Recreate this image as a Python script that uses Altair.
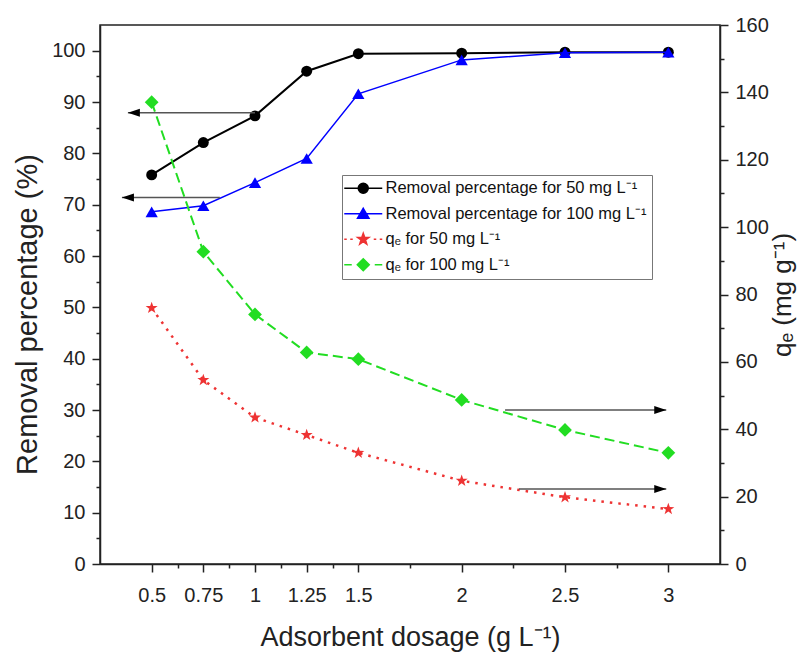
import altair as alt
import pandas as pd

# ---------------- data ----------------
dosage = [0.5, 0.75, 1.0, 1.25, 1.5, 2.0, 2.5, 3.0]
removal_50 = [75.8, 82.1, 87.3, 96.0, 99.4, 99.5, 99.7, 99.7]
removal_100 = [68.6, 69.8, 74.3, 79.0, 91.6, 98.2, 99.6, 99.7]
qe_50 = [76.0, 54.6, 43.5, 38.3, 33.0, 24.7, 19.8, 16.3]
qe_100 = [137.1, 92.7, 74.1, 62.8, 60.8, 48.7, 39.8, 33.0]

series_names = [
    "Removal percentage for 50 mg L\u207b\u00b9",
    "Removal percentage for 100 mg L\u207b\u00b9",
    "q\u2091 for 50 mg L\u207b\u00b9",
    "q\u2091 for 100 mg L\u207b\u00b9",
]
series_colors = ["#000000", "#0000ff", "#ee3333", "#22dd22"]

x_ticks = [0.5, 0.75, 1.0, 1.25, 1.5, 2.0, 2.5, 3.0]
x_minor = [0.625, 0.875, 1.125, 1.375, 1.75, 2.25, 2.75]
left_ticks = [0, 10, 20, 30, 40, 50, 60, 70, 80, 90, 100]
left_minor = [5, 15, 25, 35, 45, 55, 65, 75, 85, 95]
right_ticks = [0, 20, 40, 60, 80, 100, 120, 140, 160]
right_minor = [10, 30, 50, 70, 90, 110, 130, 150]

# arrows (annotation): y level, start x, end x (tip)
arrow_left_y = [87.9, 71.4]
arrow_left_from = [1.0, 0.83]
arrow_left_to = [0.385, 0.356]
arrow_right_y = [45.7, 22.3]
arrow_right_from = [2.21, 2.277]
arrow_right_to = [2.99, 2.99]

# ---------------- tables ----------------
df = pd.DataFrame({"dosage": dosage, "rem50": removal_50, "rem100": removal_100,
                   "qe50": qe_50, "qe100": qe_100})
long = pd.concat([
    pd.DataFrame({"dosage": dosage, "value": vals, "series": name})
    for vals, name in zip([removal_50, removal_100, qe_50, qe_100], series_names)
], ignore_index=True)
arr_l = pd.DataFrame({"y": arrow_left_y, "x1": arrow_left_from, "x2": arrow_left_to})
arr_r = pd.DataFrame({"y": arrow_right_y, "x1": arrow_right_from, "x2": arrow_right_to})

FONT = "Liberation Sans"
INK = "#222222"

star_path = ("M0,-1L0.235,-0.324L0.951,-0.309L0.38,0.124L0.588,0.809L0,0.4"
             "L-0.588,0.809L-0.38,0.124L-0.951,-0.309L-0.235,-0.324Z")
legend_paths = [
    "M-3.8,0H3.8M1,0A1,1,0,1,1,-1,0A1,1,0,1,1,1,0Z",
    "M-3.8,0H3.8M0,-1.1L1.15,0.9L-1.15,0.9Z",
    "M-3.8,0H-3.3M-2.6,0H-2.1M2.1,0H2.6M3.3,0H3.8"
    "M0,-1.2L0.282,-0.389L1.141,-0.371L0.456,0.149L0.706,0.971L0,0.48"
    "L-0.706,0.971L-0.456,0.149L-1.141,-0.371L-0.282,-0.389Z",
    "M-3.8,0H-2.3M2.3,0H3.8M0,-1.2L1.2,0L0,1.2L-1.2,0Z",
]
arrow_left_head = "M0,0L2.4,-0.8L2.4,0.8Z"
arrow_right_head = "M0,0L-2.4,-0.8L-2.4,0.8Z"

xscale = alt.Scale(domain=[0.25, 3.25], nice=False, zero=False)
lscale = alt.Scale(domain=[0, 105], nice=False, zero=False)
rscale = alt.Scale(domain=[0, 160], nice=False, zero=False)

x_major_axis = alt.Axis(values=x_ticks, orient="bottom", format=".3~g", tickSize=8,
                        labelPadding=13, title="Adsorbent dosage (g L\u207b\u00b9)",
                        titlePadding=19)
x_minor_axis = alt.Axis(values=x_minor, orient="bottom", labels=False, tickSize=4,
                        domain=False, title=None)
l_major_axis = alt.Axis(values=left_ticks, orient="left", tickSize=8, labelPadding=7,
                        title="Removal percentage (%)", titlePadding=9, titleFontSize=29,
                        titleY=289)
l_minor_axis = alt.Axis(values=left_minor, orient="left", labels=False, tickSize=4,
                        domain=False, title=None)
r_major_axis = alt.Axis(values=right_ticks, orient="right", tickSize=8, labelPadding=7,
                        title="q\u2091 (mg g\u207b\u00b9)", titleAngle=270, titleFontSize=26,
                        titleBaseline="top", titlePadding=1)
r_minor_axis = alt.Axis(values=right_minor, orient="right", labels=False, tickSize=4,
                        domain=False, title=None)

# every layer of one shared group carries the SAME axis spec (axis=None would disable it)
XL = lambda f="dosage:Q": alt.X(f, scale=xscale, axis=x_major_axis)
YL = lambda f: alt.Y(f, scale=lscale, axis=l_major_axis)
XR = lambda f="dosage:Q": alt.X(f, scale=xscale, axis=None)
YR = lambda f: alt.Y(f, scale=rscale, axis=r_major_axis)

base = alt.Chart(df)

# ---------- left (removal %) ----------
rem50_line = base.mark_line(color=series_colors[0], strokeWidth=2).encode(
    x=XL(), y=YL("rem50:Q"))
rem50_pts = base.mark_point(filled=True, shape="circle", size=120, color=series_colors[0],
                            opacity=1).encode(x=XL(), y=YL("rem50:Q"))
rem100_line = base.mark_line(color=series_colors[1], strokeWidth=1.5).encode(
    x=XL(), y=YL("rem100:Q"))
rem100_pts = base.mark_point(filled=True, shape="triangle-up", size=150,
                             color=series_colors[1], opacity=1).encode(
    x=XL(), y=YL("rem100:Q"))
arrows_l_line = alt.Chart(arr_l).mark_rule(color="#555555", strokeWidth=1.5).encode(
    x=XL("x1:Q"), x2="x2:Q", y=YL("y:Q"))
arrows_l_head = alt.Chart(arr_l).mark_point(shape=arrow_left_head, filled=True, size=100,
                                            color="#000000", opacity=1).encode(
    x=XL("x2:Q"), y=YL("y:Q"))

leg = alt.Legend(title=None, orient="none", legendX=242, legendY=150, symbolOpacity=1,
                 symbolSize=100, symbolStrokeWidth=1.5, labelFontSize=16.5, labelFont=FONT,
                 labelColor="#111111", strokeColor="#777777", fillColor="#ffffff",
                 padding=5, rowPadding=7.5, labelOffset=14, symbolOffset=8, labelLimit=500)
# invisible layer: carries the legend and the minor tick axes
legend_layer = alt.Chart(long).mark_point(filled=True, opacity=0, clip=True).encode(
    x=alt.X("dosage:Q", scale=xscale, axis=x_minor_axis),
    y=alt.Y("value:Q", scale=lscale, axis=l_minor_axis),
    fill=alt.Fill("series:N", scale=alt.Scale(domain=series_names, range=series_colors), legend=leg),
    stroke=alt.Stroke("series:N", scale=alt.Scale(domain=series_names, range=series_colors), legend=leg),
    shape=alt.Shape("series:N", scale=alt.Scale(domain=series_names, range=legend_paths), legend=leg),
)

left_main = alt.layer(rem50_line, rem50_pts, rem100_line, rem100_pts,
                      arrows_l_line, arrows_l_head)
left = alt.layer(left_main, legend_layer).resolve_axis(x="independent", y="independent")

# ---------- right (qe) ----------
qe50_line = base.mark_line(color=series_colors[2], strokeWidth=2.5, strokeDash=[2.5, 6]).encode(
    x=XR(), y=YR("qe50:Q"))
qe50_pts = base.mark_point(filled=True, shape=star_path, size=160, color=series_colors[2],
                           opacity=1).encode(x=XR(), y=YR("qe50:Q"))
qe100_line = base.mark_line(color=series_colors[3], strokeWidth=2, strokeDash=[10, 5]).encode(
    x=XR(), y=alt.Y("qe100:Q", scale=rscale, axis=r_minor_axis))
qe100_pts = base.mark_point(filled=True, shape="diamond", size=190, color=series_colors[3],
                            opacity=1).encode(x=XR(), y=YR("qe100:Q"))
arrows_r_line = alt.Chart(arr_r).mark_rule(color="#555555", strokeWidth=1.5).encode(
    x=XR("x1:Q"), x2="x2:Q", y=YR("y:Q"))
arrows_r_head = alt.Chart(arr_r).mark_point(shape=arrow_right_head, filled=True, size=100,
                                            color="#000000", opacity=1).encode(
    x=XR("x2:Q"), y=YR("y:Q"))

right_main = alt.layer(qe100_pts, qe50_line, qe50_pts, arrows_r_line, arrows_r_head)
right = alt.layer(qe100_line, right_main).resolve_axis(y="independent")

chart = alt.layer(left, right).resolve_scale(y="independent").resolve_axis(
    x="independent").properties(
    width=620, height=539,
    autosize=alt.AutoSizeParams(type="none"),
    padding={"left": 92, "top": 17, "right": 81, "bottom": 91},
    background="#ffffff",
).configure_view(stroke=INK, strokeWidth=1.5).configure_axis(
    labelFont=FONT, titleFont=FONT, labelFontSize=20, titleFontSize=27,
    labelColor=INK, titleColor=INK, domainColor=INK, tickColor=INK,
    domainWidth=1.5, tickWidth=1.5, grid=False, titleFontWeight="normal",
)

chart.save("out.html", embed_options={"renderer": "svg", "actions": False})
